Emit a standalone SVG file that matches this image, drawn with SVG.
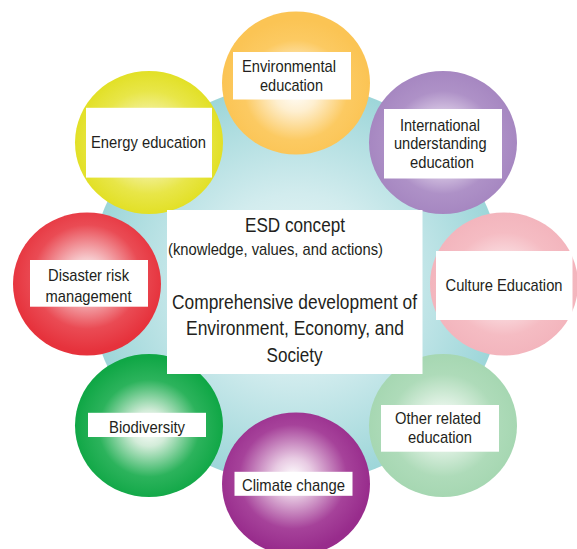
<svg xmlns="http://www.w3.org/2000/svg" width="577" height="549" viewBox="0 0 577 549">
  <defs>
    <style>
      .label { font-family: "Liberation Sans", Arial, sans-serif; fill: #231f20; text-anchor: middle; }
      .small { font-size: 17px; }
      .big { font-size: 20px; }
      .box { fill: #ffffff; }
    </style>
    <radialGradient id="hub" cx="50%" cy="50%" r="50%">
      <stop offset="0" stop-color="#eef8f8"/>
      <stop offset="0.45" stop-color="#d2ecee"/>
      <stop offset="1" stop-color="#9dd6d9"/>
    </radialGradient>
    <radialGradient id="gOrange" cx="50%" cy="55%" r="50%">
      <stop offset="0" stop-color="#ffffff"/>
      <stop offset="0.3" stop-color="#feefd0"/>
      <stop offset="0.7" stop-color="#fcca62"/>
      <stop offset="1" stop-color="#fbc454"/>
    </radialGradient>
    <radialGradient id="gLavender" cx="50%" cy="50%" r="50%">
      <stop offset="0" stop-color="#ffffff"/>
      <stop offset="0.3" stop-color="#e6daee"/>
      <stop offset="0.72" stop-color="#ae91c7"/>
      <stop offset="1" stop-color="#a687c1"/>
    </radialGradient>
    <radialGradient id="gPink" cx="50%" cy="50%" r="50%">
      <stop offset="0" stop-color="#ffffff"/>
      <stop offset="0.3" stop-color="#fbe3e6"/>
      <stop offset="0.72" stop-color="#f5bcc3"/>
      <stop offset="1" stop-color="#f3b5bd"/>
    </radialGradient>
    <radialGradient id="gMint" cx="50%" cy="50%" r="50%">
      <stop offset="0" stop-color="#ffffff"/>
      <stop offset="0.3" stop-color="#e1f2e5"/>
      <stop offset="0.72" stop-color="#aedbb9"/>
      <stop offset="1" stop-color="#a6d7b2"/>
    </radialGradient>
    <radialGradient id="gPlum" cx="48%" cy="45%" r="52%">
      <stop offset="0" stop-color="#ffffff"/>
      <stop offset="0.25" stop-color="#e8cbe3"/>
      <stop offset="0.7" stop-color="#a6429a"/>
      <stop offset="1" stop-color="#982c8c"/>
    </radialGradient>
    <radialGradient id="gGreen" cx="50%" cy="52%" r="50%">
      <stop offset="0" stop-color="#ffffff"/>
      <stop offset="0.25" stop-color="#d3ecd9"/>
      <stop offset="0.68" stop-color="#2cb35c"/>
      <stop offset="1" stop-color="#10a746"/>
    </radialGradient>
    <radialGradient id="gRed" cx="50%" cy="45%" r="52%">
      <stop offset="0" stop-color="#ffffff"/>
      <stop offset="0.25" stop-color="#f6c9cc"/>
      <stop offset="0.7" stop-color="#ea4b54"/>
      <stop offset="1" stop-color="#e6323c"/>
    </radialGradient>
    <radialGradient id="gYellow" cx="50%" cy="50%" r="50%">
      <stop offset="0" stop-color="#ffffff"/>
      <stop offset="0.3" stop-color="#f6f4b8"/>
      <stop offset="0.72" stop-color="#e8e648"/>
      <stop offset="1" stop-color="#e2e026"/>
    </radialGradient>
  </defs>

  <!-- central hub disc -->
  <g id="hub-disc">
    <ellipse cx="296" cy="284" rx="207" ry="200" fill="url(#hub)"/>
  </g>

  <!-- surrounding spheres with their labels -->
  <g id="environmental">
    <ellipse cx="296" cy="83" rx="74" ry="71.5" fill="url(#gOrange)"/>
    <rect class="box" x="233" y="52" width="118" height="47.5"/>
    <text class="label small" x="289" y="72" textLength="94" lengthAdjust="spacingAndGlyphs">Environmental</text>
    <text class="label small" x="291.5" y="90.5" textLength="63" lengthAdjust="spacingAndGlyphs">education</text>
  </g>

  <g id="international">
    <ellipse cx="443" cy="142.5" rx="74" ry="71.5" fill="url(#gLavender)"/>
    <rect class="box" x="384" y="109" width="118" height="69.5"/>
    <text class="label small" x="440" y="130.5" textLength="80" lengthAdjust="spacingAndGlyphs">International</text>
    <text class="label small" x="440.3" y="149" textLength="92.6" lengthAdjust="spacingAndGlyphs">understanding</text>
    <text class="label small" x="442" y="167.5" textLength="64" lengthAdjust="spacingAndGlyphs">education</text>
  </g>

  <g id="culture">
    <ellipse cx="504" cy="284" rx="74" ry="71.5" fill="url(#gPink)"/>
    <rect class="box" x="436" y="251" width="136.5" height="69"/>
    <text class="label small" x="504" y="291.3" textLength="117" lengthAdjust="spacingAndGlyphs">Culture Education</text>
  </g>

  <g id="other-related">
    <ellipse cx="443" cy="425.5" rx="74" ry="71.5" fill="url(#gMint)"/>
    <rect class="box" x="381" y="405" width="118" height="46.7"/>
    <text class="label small" x="438" y="423.5" textLength="86" lengthAdjust="spacingAndGlyphs">Other related</text>
    <text class="label small" x="440" y="442.8" textLength="64" lengthAdjust="spacingAndGlyphs">education</text>
  </g>

  <g id="climate">
    <ellipse cx="296" cy="484" rx="74" ry="71.5" fill="url(#gPlum)"/>
    <rect class="box" x="234.5" y="471.8" width="118" height="24"/>
    <text class="label small" x="293.5" y="490.5" textLength="103" lengthAdjust="spacingAndGlyphs">Climate change</text>
  </g>

  <g id="biodiversity">
    <ellipse cx="149" cy="425.5" rx="74" ry="71.5" fill="url(#gGreen)"/>
    <rect class="box" x="88" y="412.8" width="118" height="24.2"/>
    <text class="label small" x="147" y="432.8" textLength="76" lengthAdjust="spacingAndGlyphs">Biodiversity</text>
  </g>

  <g id="disaster">
    <ellipse cx="87" cy="284" rx="74" ry="71.5" fill="url(#gRed)"/>
    <rect class="box" x="30" y="260" width="118" height="46.7"/>
    <text class="label small" x="88.5" y="280.8" textLength="81" lengthAdjust="spacingAndGlyphs">Disaster risk</text>
    <text class="label small" x="88.5" y="301.8" textLength="86" lengthAdjust="spacingAndGlyphs">management</text>
  </g>

  <g id="energy">
    <ellipse cx="149" cy="142.5" rx="74" ry="71.5" fill="url(#gYellow)"/>
    <rect class="box" x="86" y="107.8" width="126" height="69.8"/>
    <text class="label small" x="148.5" y="147.8" textLength="115" lengthAdjust="spacingAndGlyphs">Energy education</text>
  </g>

  <!-- central concept panel -->
  <g id="esd-concept">
    <rect class="box" x="167" y="210" width="255.5" height="164"/>
    <text class="label big" x="295" y="232.3" textLength="100" lengthAdjust="spacingAndGlyphs">ESD concept</text>
    <text class="label small" x="275.5" y="254.6" textLength="215" lengthAdjust="spacingAndGlyphs">(knowledge, values, and actions)</text>
    <text class="label big" x="294.5" y="308.8" textLength="245" lengthAdjust="spacingAndGlyphs">Comprehensive development of</text>
    <text class="label big" x="295" y="335.4" textLength="218" lengthAdjust="spacingAndGlyphs">Environment, Economy, and</text>
    <text class="label big" x="294.5" y="362.4" textLength="56" lengthAdjust="spacingAndGlyphs">Society</text>
  </g>
</svg>
